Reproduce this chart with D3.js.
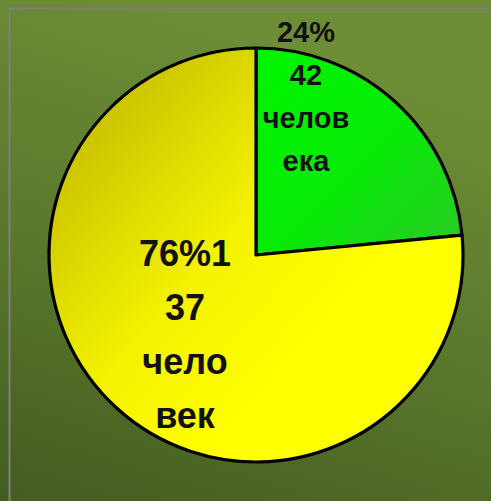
<!DOCTYPE html>
<html><head><meta charset="utf-8">
<script src="https://cdn.jsdelivr.net/npm/d3@7"></script>
<style>html,body{margin:0;padding:0;overflow:hidden;background:#5a7a2c}</style>
</head><body>
<script>
const categories = ["42 человека", "137 человек"];
const values = [42, 137];
const percents = ["24%", "76%"];
const labelLines = [["24%", "42", "челов", "ека"], ["76%1", "37", "чело", "век"]];

const W = 491, H = 501;
const svg = d3.select("body").append("svg").attr("width", W).attr("height", H);
const defs = svg.append("defs");

const bg = defs.append("linearGradient").attr("id","bg").attr("x1","0.3").attr("y1","0").attr("x2","0").attr("y2","1");
bg.append("stop").attr("offset","0").attr("stop-color","#6d8d36");
bg.append("stop").attr("offset","0.5").attr("stop-color","#5a782c");
bg.append("stop").attr("offset","1").attr("stop-color","#435c20");
svg.append("rect").attr("width",W).attr("height",H).attr("fill","url(#bg)");

// frame
svg.append("path").attr("d","M9.5,520 V8.5 H520").attr("fill","none").attr("stroke","#7f7f7f").attr("stroke-width",2);

const cx = 256, cy = 255, r = 207;
// gradient coordinates relative to pie centre
const gY = defs.append("linearGradient").attr("id","gy").attr("gradientUnits","userSpaceOnUse")
  .attr("x1",-200).attr("y1",-110).attr("x2",40).attr("y2",100);
gY.append("stop").attr("offset","0").attr("stop-color","#c8c000");
gY.append("stop").attr("offset","0.6").attr("stop-color","#f4f200");
gY.append("stop").attr("offset","1").attr("stop-color","#ffff00");
const gG = defs.append("linearGradient").attr("id","gg").attr("gradientUnits","userSpaceOnUse")
  .attr("x1",4).attr("y1",-195).attr("x2",194).attr("y2",-5);
gG.append("stop").attr("offset","0").attr("stop-color","#00f400");
gG.append("stop").attr("offset","0.5").attr("stop-color","#06ec06");
gG.append("stop").attr("offset","1").attr("stop-color","#28cc22");
const fills = ["url(#gg)", "url(#gy)"];

const pie = d3.pie().sort(null).value(d => d);
const arc = d3.arc().innerRadius(0).outerRadius(r);
const g = svg.append("g").attr("transform",`translate(${cx},${cy})`);
g.selectAll("path.slice").data(pie(values)).join("path").attr("class","slice")
  .attr("d", arc).attr("fill", (d,i) => fills[i])
  .attr("stroke","#000").attr("stroke-width",3.2).attr("stroke-linejoin","round");

const labelPos = [{dx: 50, dy: -213, size: 29, step: 43}, {dx: -71, dy: 11, size: 36, step: 54}];
labelLines.forEach((lines, i) => {
  const p = labelPos[i];
  const t = g.append("text").attr("text-anchor","middle")
    .attr("font-family","Liberation Sans, Arial, sans-serif").attr("font-weight","bold")
    .attr("font-size", p.size).attr("fill","#111");
  lines.forEach((s, k) => t.append("tspan").attr("x", p.dx).attr("y", p.dy + k*p.step).text(s));
});
</script>
</body></html>
